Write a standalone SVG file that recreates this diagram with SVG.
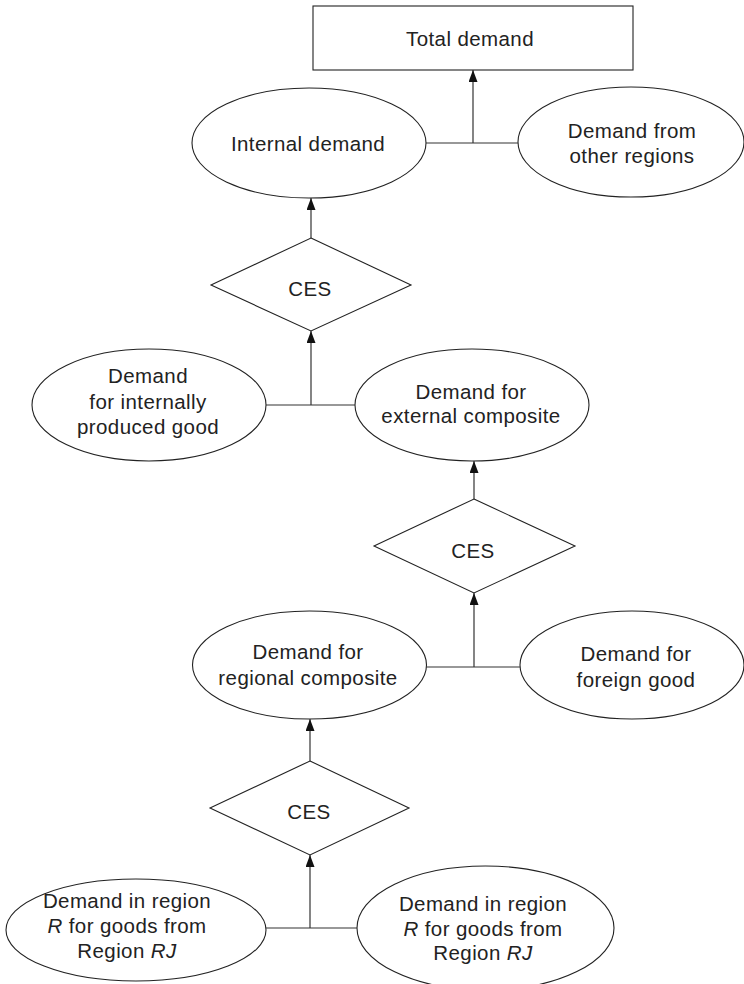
<svg xmlns="http://www.w3.org/2000/svg" width="744" height="984" viewBox="0 0 744 984">
<style>
.shape{fill:#fff;stroke:#222;stroke-width:1.1}
.lbl{font-family:"Liberation Sans",Arial,sans-serif;font-size:20.5px;letter-spacing:0.4px;fill:#222;text-anchor:middle}
.it{font-style:italic}
.conn line{stroke:#333;stroke-width:1.2;fill:none}
</style>
<defs>
<marker id="ah" viewBox="0 0 12 9" refX="12" refY="4.5" markerWidth="12" markerHeight="9" markerUnits="userSpaceOnUse" orient="auto">
<path d="M0,0 L12,4.5 L0,9 Z" fill="#111"/>
</marker>
</defs>
<rect width="744" height="984" fill="#fff"/>

<g id="total-demand">
<rect class="shape" x="313" y="6" width="320" height="64"/>
<text class="lbl" x="470" y="46">Total demand</text>
</g>

<g id="internal-demand">
<ellipse class="shape" cx="309" cy="143" rx="117" ry="55"/>
<text class="lbl" x="308" y="151">Internal demand</text>
</g>

<g id="demand-other-regions">
<ellipse class="shape" cx="631" cy="142" rx="113" ry="55"/>
<text class="lbl" x="632" y="138">Demand from</text>
<text class="lbl" x="632" y="163">other regions</text>
</g>

<g id="ces-1">
<polygon class="shape" points="311,238 411,285 311,331 211,285"/>
<text class="lbl" x="310" y="296">CES</text>
</g>

<g id="demand-internally-produced">
<ellipse class="shape" cx="149" cy="405" rx="117" ry="56"/>
<text class="lbl" x="148" y="383">Demand</text>
<text class="lbl" x="148" y="409">for internally</text>
<text class="lbl" x="148" y="434">produced good</text>
</g>

<g id="demand-external-composite">
<ellipse class="shape" cx="472" cy="405" rx="117" ry="56"/>
<text class="lbl" x="471" y="399">Demand for</text>
<text class="lbl" x="471" y="423">external composite</text>
</g>

<g id="ces-2">
<polygon class="shape" points="474,499 575,546 474,593 374,546"/>
<text class="lbl" x="473" y="558">CES</text>
</g>

<g id="demand-regional-composite">
<ellipse class="shape" cx="309.5" cy="665" rx="117" ry="54"/>
<text class="lbl" x="308" y="659">Demand for</text>
<text class="lbl" x="308" y="685">regional composite</text>
</g>

<g id="demand-foreign-good">
<ellipse class="shape" cx="632" cy="665" rx="112" ry="54"/>
<text class="lbl" x="636" y="661">Demand for</text>
<text class="lbl" x="636" y="687">foreign good</text>
</g>

<g id="ces-3">
<polygon class="shape" points="310,761 409,808 310,855 210,808"/>
<text class="lbl" x="309" y="819">CES</text>
</g>

<g id="demand-region-r-left">
<ellipse class="shape" cx="136" cy="930" rx="130" ry="51"/>
<text class="lbl" x="127" y="908">Demand in region</text>
<text class="lbl" x="127" y="933"><tspan class="it">R</tspan> for goods from</text>
<text class="lbl" x="127" y="958">Region <tspan class="it">RJ</tspan></text>
</g>

<g id="demand-region-r-right">
<ellipse class="shape" cx="485.5" cy="928" rx="128.5" ry="62"/>
<text class="lbl" x="483" y="911">Demand in region</text>
<text class="lbl" x="483" y="936"><tspan class="it">R</tspan> for goods from</text>
<text class="lbl" x="483" y="960">Region <tspan class="it">RJ</tspan></text>
</g>

<g id="connectors" class="conn">
<line x1="426" y1="143" x2="518" y2="143"/>
<line x1="473" y1="143" x2="473" y2="70" marker-end="url(#ah)"/>
<line x1="311" y1="238" x2="311" y2="198" marker-end="url(#ah)"/>
<line x1="266" y1="405" x2="355" y2="405"/>
<line x1="311" y1="405" x2="311" y2="331" marker-end="url(#ah)"/>
<line x1="474" y1="499" x2="474" y2="461" marker-end="url(#ah)"/>
<line x1="426" y1="667" x2="520" y2="667"/>
<line x1="474" y1="667" x2="474" y2="593" marker-end="url(#ah)"/>
<line x1="310" y1="761" x2="310" y2="719" marker-end="url(#ah)"/>
<line x1="266" y1="928" x2="357" y2="928"/>
<line x1="310" y1="928" x2="310" y2="855" marker-end="url(#ah)"/>
</g>
</svg>
